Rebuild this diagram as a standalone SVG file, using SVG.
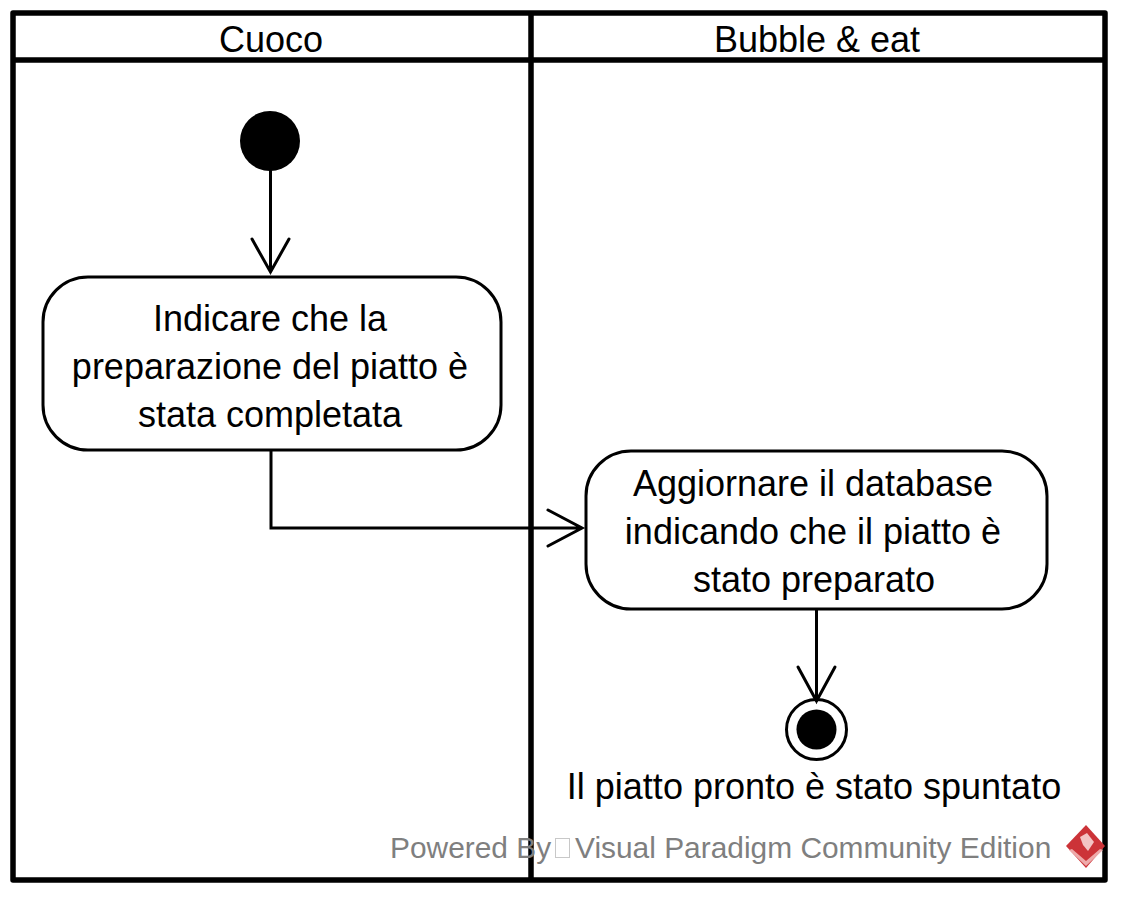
<svg xmlns="http://www.w3.org/2000/svg" width="1122" height="897" viewBox="0 0 1122 897">
<style>
text{font-family:"Liberation Sans",Arial,sans-serif;font-size:36px;fill:#000;text-anchor:middle}
.lane{fill:none;stroke:#000;stroke-width:5.5;stroke-linejoin:round}
.node{fill:#fff;stroke:#000;stroke-width:3}
.edge{fill:none;stroke:#000;stroke-width:3;stroke-linecap:round;stroke-linejoin:miter}
.wm{fill:#7f7f7f;font-size:29.9px;text-anchor:start}
</style>
<rect width="1122" height="897" fill="#fff"/>
<g id="lanes">
<rect class="lane" x="13" y="13" width="1092" height="867"/>
<path class="lane" d="M13 60H1105M531 13V880"/>
</g>
<g id="lane-cuoco"><text x="271" y="51.500">Cuoco</text></g>
<g id="lane-bubble"><text x="817" y="51.500">Bubble &amp; eat</text></g>
<g id="start"><circle cx="270" cy="141" r="30" fill="#000"/></g>
<g id="action-indicare">
<rect class="node" x="43" y="277" width="458" height="173" rx="45" ry="45"/>
<text x="270" y="330.500">Indicare che la</text>
<text x="270" y="378.500">preparazione del piatto è</text>
<text x="270" y="426.500">stata completata</text>
</g>
<g id="action-aggiornare">
<rect class="node" x="586" y="451" width="461" height="158" rx="45" ry="45"/>
<text x="813" y="495.500">Aggiornare il database</text>
<text x="813" y="543.500">indicando che il piatto è</text>
<text x="814" y="591.500">stato preparato</text>
</g>
<g id="end">
<circle cx="816.500" cy="729.500" r="30" fill="#fff" stroke="#000" stroke-width="3"/>
<circle cx="816.500" cy="729.500" r="20" fill="#000"/>
<text x="814" y="798.500">Il piatto pronto è stato spuntato</text>
</g>
<g id="connectors">
<path class="edge" d="M270.500 171V272M252 239L270.500 272L289 239"/>
<path class="edge" d="M271 451V528H582M548 510L582 528L548 546"/>
<path class="edge" d="M816.500 610V701M798 667L816.500 701L835 667"/>
</g>
<g id="watermark">
<text class="wm" x="390" y="858">Powered By</text>
<rect x="555.500" y="838.500" width="14" height="19" fill="none" stroke="#c8c8c8" stroke-width="1"/>
<text class="wm" x="575" y="858">Visual Paradigm Community Edition</text>
<path fill="#cc3338" d="M1086 825L1105 846L1086 868L1066 846Z"/>
<path fill="#f3c4c4" d="M1080 837L1087 833L1094 842L1088 851L1083 845Z"/>
<path fill="#eeaaaa" d="M1069 850L1086 866L1103 850L1100 849L1086 861L1072 849Z"/>
</g>
</svg>
